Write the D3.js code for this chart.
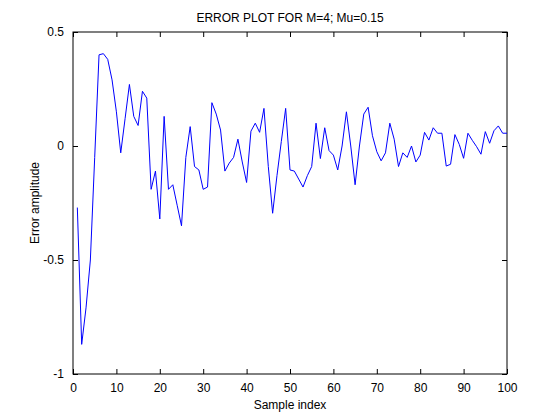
<html>
<meta charset="utf-8">
<script src="https://d3js.org/d3.v7.min.js"></script>
<style>
  body { margin: 0; background: #fff; }
  text { font-family: "Liberation Sans", Arial, sans-serif; }
</style>
<div id="chart"></div>
<script>
// error values, sample index 1..100
let samples = d3.range(1, 101)
let errors = [
  -0.27, -0.87, -0.71, -0.50, -0.05, 0.40, 0.405, 0.38, 0.29, 0.15,
  -0.03, 0.12, 0.27, 0.13, 0.09, 0.24, 0.21, -0.19, -0.11, -0.32,
  0.13, -0.19, -0.17, -0.26, -0.35, -0.05, 0.085, -0.09, -0.105, -0.19,
  -0.18, 0.19, 0.14, 0.07, -0.11, -0.075, -0.05, 0.03, -0.07, -0.16,
  0.065, 0.10, 0.06, 0.165, -0.09, -0.295, -0.13, 0.02, 0.165, -0.105,
  -0.11, -0.145, -0.18, -0.13, -0.09, 0.10, -0.055, 0.08, -0.02, -0.04,
  -0.105, 0.0, 0.15, 0.0, -0.17, 0.0, 0.14, 0.17, 0.045, -0.025,
  -0.065, -0.03, 0.10, 0.03, -0.09, -0.03, -0.05, 0.0, -0.07, -0.04,
  0.06, 0.026, 0.08, 0.056, 0.056, -0.088, -0.08, 0.05, 0.007, -0.054,
  0.056, 0.025, -0.003, -0.036, 0.063, 0.012, 0.067, 0.088, 0.056, 0.056
]
let xTicks = [0, 10, 20, 30, 40, 50, 60, 70, 80, 90, 100]
let yTicks = [-1, -0.5, 0, 0.5]

let width = 560,
    height = 420
let margin = {top: 32, right: 53, bottom: 46, left: 73}
let w = width - margin.left - margin.right,
    h = height - margin.top - margin.bottom

let svg = d3.select("#chart").append("svg")
    .attr("width", width)
    .attr("height", height)

let g = svg.append("g")
    .attr("transform", "translate(" + margin.left + "," + margin.top + ")")

let x = d3.scaleLinear().domain([0, 100]).range([0, w])
let y = d3.scaleLinear().domain([-1, 0.5]).range([h, 0])

let fmt = d => d === 0.5 ? "0.5" : d === -0.5 ? "-0.5" : String(d)

// axes, ticks pointing inward like matlab
g.append("g")
    .attr("transform", "translate(0," + h + ")")
    .call(d3.axisBottom(x).tickValues(xTicks).tickSizeInner(-5).tickSizeOuter(0).tickPadding(9).tickFormat(fmt))
g.append("g")
    .call(d3.axisTop(x).tickValues(xTicks).tickSizeInner(-5).tickSizeOuter(0).tickFormat(""))
g.append("g")
    .call(d3.axisLeft(y).tickValues(yTicks).tickSizeInner(-5).tickSizeOuter(0).tickPadding(9).tickFormat(fmt))
g.append("g")
    .attr("transform", "translate(" + w + ",0)")
    .call(d3.axisRight(y).tickValues(yTicks).tickSizeInner(-5).tickSizeOuter(0).tickFormat(""))

g.selectAll(".domain").remove()
g.selectAll(".tick line").attr("stroke", "#000")
g.selectAll(".tick text")
    .attr("fill", "#000")
    .style("font-size", "12px")
    .style("font-family", "'Liberation Sans', Arial, sans-serif")

g.append("rect")
    .attr("width", w)
    .attr("height", h)
    .attr("fill", "none")
    .attr("stroke", "#000")
    .attr("stroke-width", 1)

let line = d3.line()
    .x((d, i) => x(samples[i]))
    .y(d => y(d))

g.append("path")
    .datum(errors)
    .attr("d", line)
    .attr("fill", "none")
    .attr("stroke", "#0000ff")
    .attr("stroke-width", 1)

svg.append("text")
    .attr("x", margin.left + w / 2)
    .attr("y", 22)
    .attr("text-anchor", "middle")
    .style("font-size", "12px")
    .text("ERROR PLOT FOR M=4; Mu=0.15")

svg.append("text")
    .attr("x", margin.left + w / 2)
    .attr("y", 409)
    .attr("text-anchor", "middle")
    .style("font-size", "12px")
    .text("Sample index")

svg.append("text")
    .attr("transform", "translate(39," + (margin.top + h / 2) + ") rotate(-90)")
    .attr("text-anchor", "middle")
    .style("font-size", "12px")
    .text("Error amplitude")
</script>
</html>
